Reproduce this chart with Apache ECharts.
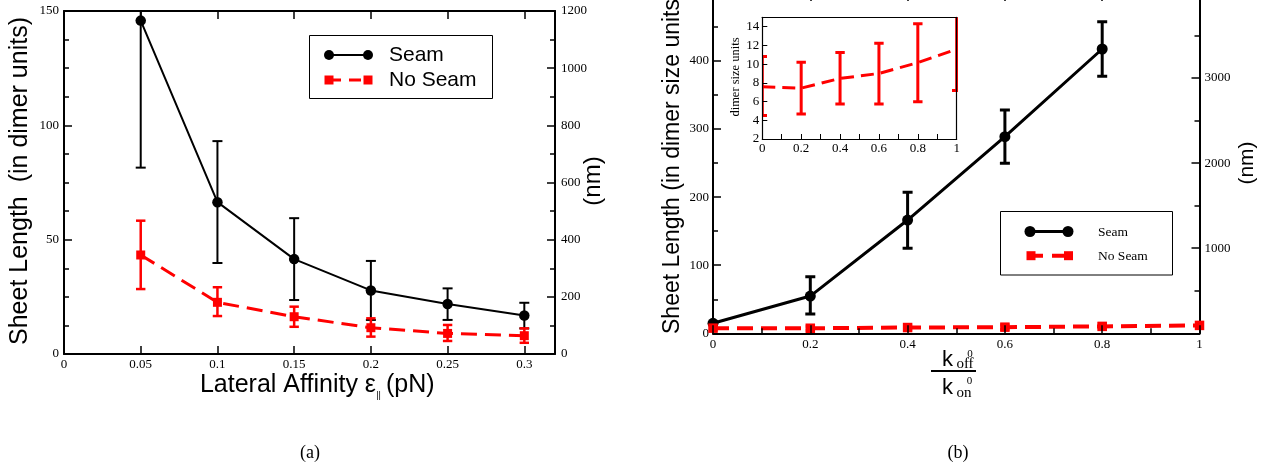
<!DOCTYPE html>
<html><head><meta charset="utf-8">
<script src="https://cdn.jsdelivr.net/npm/echarts@6/dist/echarts.min.js"></script>
<style>html,body{margin:0;padding:0;background:#fff}#c{width:1272px;height:470px}</style>
</head><body><div id="c"></div>
<script>
// ---------- data: panel (a) ----------
const affinity = [0.05, 0.1, 0.15, 0.2, 0.25, 0.3];
const seamA     = [145.8, 66.4, 41.5, 27.8, 21.9, 16.8];
const seamALow  = [81.5, 39.8, 23.6, 14.9, 14.9, 11.2];
const seamAHigh = [210, 93.1, 59.4, 40.7, 28.7, 22.4];
const noSeamA     = [43.3, 22.6, 16.3, 11.5, 9.0, 8.0];
const noSeamALow  = [28.4, 16.6, 11.9, 7.6, 5.7, 4.9];
const noSeamAHigh = [58.3, 29.2, 20.7, 15.6, 12.7, 11.2];
// ---------- data: panel (b) ----------
const ratioSeam = [0, 0.2, 0.4, 0.6, 0.8];
const seamB     = [14.7, 54.7, 166.4, 288.8, 417.6];
const seamBLow  = [12.5, 28.3, 124.9, 249.7, 377.5];
const seamBHigh = [17, 83, 207.1, 328, 457.7];
const ratio = [0, 0.2, 0.4, 0.6, 0.8, 1];
const noSeamB     = [7.57, 7.43, 8.47, 9.0, 10.16, 11.6];
const noSeamBLow  = [4.5, 4.66, 5.74, 5.74, 5.99, 7.17];
const noSeamBHigh = [10.8, 10.2, 11.23, 12.24, 14.32, 16.0];
// ---------- axis ticks ----------
const xTicksA = {min: 0, max: 0.32, interval: 0.05};
const yTicksA = {min: 0, max: 150, interval: 50};
const nmTicksA = {min: 0, max: 1200, interval: 200};
const xTicksB = {min: 0, max: 1, interval: 0.2};
const yTicksB = {min: 0, max: 500, interval: 100};
const nmTicksB = {min: 0, max: 4000, interval: 1000};
const yTicksInset = {min: 2, max: 15, interval: 2};

const serif = '"Liberation Serif","DejaVu Serif",serif';
const sans = '"Liberation Sans",Arial,sans-serif';
const RED = '#ff0000';
const fmt = v => String(parseFloat(Number(v).toFixed(6)));

function axis(kind, o) {
  return {
    type: 'value', gridIndex: o.grid, position: o.position,
    min: o.t.min, max: o.t.max, interval: o.t.interval,
    z: o.z || 0,
    axisLine: {show: true, onZero: false, lineStyle: {color: '#000', width: o.lw || 2}},
    axisTick: {show: o.tick !== false, inside: true, length: o.tl || 8, lineStyle: {color: '#000', width: o.tw || 1.5}},
    minorTick: {show: !!o.minor, splitNumber: o.minor || 2, length: o.ml || 5, lineStyle: {color: '#000', width: o.tw || 1.5}},
    splitLine: {show: false},
    axisLabel: {show: o.label !== false, color: '#000', fontFamily: serif, fontSize: o.fs || 13, margin: o.margin || 5,
      formatter: fmt,
      showMinLabel: o.showMin !== false, showMaxLabel: o.showMax !== false, hideOverlap: false}
  };
}

function line(xs, ys, xi, yi, o) {
  return {
    type: 'line', xAxisIndex: xi, yAxisIndex: yi, z: o.z || 3,
    data: xs.map((x, i) => [x, ys[i]]),
    symbol: o.symbol || 'none', symbolSize: o.size || 0, showSymbol: !!o.symbol,
    itemStyle: {color: o.color, borderWidth: 0},
    lineStyle: {color: o.color, width: o.lw, type: o.dash || 'solid'},
    animation: false, silent: true, clip: true
  };
}

function errBars(xs, lo, hi, xi, yi, o) {
  return {
    type: 'custom', xAxisIndex: xi, yAxisIndex: yi, z: o.z || 3, clip: true, silent: true,
    data: xs.map((x, i) => [x, lo[i], hi[i]]),
    encode: {x: 0, y: [1, 2]},
    renderItem(params, api) {
      const x = api.value(0), l = api.value(1), h = api.value(2);
      const p1 = api.coord([x, h]), p2 = api.coord([x, l]);
      const st = {stroke: o.color, lineWidth: o.lw};
      const c = o.cap;
      return {type: 'group', children: [
        {type: 'line', shape: {x1: p1[0], y1: p1[1], x2: p2[0], y2: p2[1]}, style: st},
        {type: 'line', shape: {x1: p1[0] - c, y1: p1[1], x2: p1[0] + c, y2: p1[1]}, style: st},
        {type: 'line', shape: {x1: p2[0] - c, y1: p2[1], x2: p2[0] + c, y2: p2[1]}, style: st}
      ]};
    }
  };
}

function txt(text, x, y, font, o) {
  o = o || {};
  return {type: 'text', x, y, rotation: o.rot || 0, z: 50,
    style: {text, font, fill: '#000', align: o.align || 'center', verticalAlign: o.va || 'middle'}};
}

const graphic = [
  // panel (a) axis titles
  txt('Sheet Length  (in dimer units)', 20, 181, '25px ' + sans, {rot: Math.PI / 2}),
  txt('(nm)', 593, 181, '24px ' + sans, {rot: Math.PI / 2}),
  txt('Lateral Affinity \u03b5', 376, 385, '25px ' + sans, {align: 'right'}),
  txt('||', 378.5, 396, '9px ' + sans),
  txt('(pN)', 386, 385, '25px ' + sans, {align: 'left'}),
  // panel (a) legend
  {type: 'rect', z: 40, shape: {x: 309.5, y: 35.5, width: 183, height: 63}, style: {fill: '#fff', stroke: '#000', lineWidth: 1}},
  {type: 'line', z: 41, shape: {x1: 329, y1: 55, x2: 368, y2: 55}, style: {stroke: '#000', lineWidth: 2}},
  {type: 'circle', z: 42, shape: {cx: 329, cy: 55, r: 5}, style: {fill: '#000'}},
  {type: 'circle', z: 42, shape: {cx: 368, cy: 55, r: 5}, style: {fill: '#000'}},
  txt('Seam', 389, 55, '21px ' + sans, {align: 'left'}),
  {type: 'line', z: 41, shape: {x1: 329, y1: 80, x2: 368, y2: 80}, style: {stroke: RED, lineWidth: 3, lineDash: [12, 8]}},
  {type: 'rect', z: 42, shape: {x: 324.5, y: 75.5, width: 9, height: 9}, style: {fill: RED}},
  {type: 'rect', z: 42, shape: {x: 363.5, y: 75.5, width: 9, height: 9}, style: {fill: RED}},
  txt('No Seam', 389, 80, '21px ' + sans, {align: 'left'}),
  // panel (b) axis titles
  txt('Sheet Length (in dimer size units)', 673, 334, '23px ' + sans, {rot: Math.PI / 2, align: 'left'}),
  txt('(nm)', 1247, 163, '21px ' + sans, {rot: Math.PI / 2}),
  txt('k', 947.5, 360, '22px ' + sans),
  txt('0', 970, 354.5, '11px ' + serif),
  txt('off', 965, 364, '15px ' + serif),
  {type: 'line', z: 50, shape: {x1: 931, y1: 371, x2: 976, y2: 371}, style: {stroke: '#000', lineWidth: 2}},
  txt('k', 947.5, 388, '22px ' + sans),
  txt('0', 969.5, 381, '11px ' + serif),
  txt('on', 964, 393.5, '15px ' + serif),
  txt('dimer size units', 736, 77, '12.5px ' + serif, {rot: Math.PI / 2}),
  // panel (b) legend
  {type: 'rect', z: 40, shape: {x: 1000.5, y: 211.5, width: 172, height: 63.5}, style: {fill: '#fff', stroke: '#000', lineWidth: 1}},
  {type: 'line', z: 41, shape: {x1: 1030, y1: 231.5, x2: 1068, y2: 231.5}, style: {stroke: '#000', lineWidth: 3}},
  {type: 'circle', z: 42, shape: {cx: 1030, cy: 231.5, r: 5.5}, style: {fill: '#000'}},
  {type: 'circle', z: 42, shape: {cx: 1068, cy: 231.5, r: 5.5}, style: {fill: '#000'}},
  txt('Seam', 1098, 232, '13.5px ' + serif, {align: 'left'}),
  {type: 'line', z: 41, shape: {x1: 1031, y1: 255.7, x2: 1068.5, y2: 255.7}, style: {stroke: RED, lineWidth: 4, lineDash: [12, 9]}},
  {type: 'rect', z: 42, shape: {x: 1026.5, y: 251.2, width: 9, height: 9}, style: {fill: RED}},
  {type: 'rect', z: 42, shape: {x: 1064, y: 251.2, width: 9, height: 9}, style: {fill: RED}},
  txt('No Seam', 1098, 256, '13.5px ' + serif, {align: 'left'}),
  // captions
  txt('(a)', 310, 453, '18px ' + serif),
  txt('(b)', 958, 453, '18px ' + serif)
];

const option = {
  animation: false,
  backgroundColor: '#fff',
  grid: [
    {left: 64, top: 11, width: 491, height: 343, outerBoundsMode: 'none', containLabel: false},
    {left: 713, top: -7.1, width: 486.5, height: 340.4, outerBoundsMode: 'none', containLabel: false},
    {left: 762.3, top: 17.3, width: 194.4, height: 121.7, outerBoundsMode: 'none', containLabel: false,
      show: true, backgroundColor: '#fff', borderWidth: 0, z: 4}
  ],
  xAxis: [
    axis('x', {grid: 0, position: 'bottom', t: xTicksA, margin: 4, showMax: false, z: 5}),
    axis('x', {grid: 0, position: 'top', t: xTicksA, label: false}),
    axis('x', {grid: 1, position: 'bottom', t: xTicksB, minor: 2, ml: 5, margin: 5, z: 5}),
    axis('x', {grid: 1, position: 'top', t: xTicksB, minor: 2, label: false}),
    axis('x', {grid: 2, position: 'bottom', t: xTicksB, minor: 2, tl: 5, ml: 5, lw: 1.2, tw: 1, margin: 3, z: 6}),
    axis('x', {grid: 2, position: 'top', t: xTicksB, tick: false, label: false, lw: 1.2, z: 6})
  ],
  yAxis: [
    axis('y', {grid: 0, position: 'left', t: yTicksA, minor: 4, margin: 5}),
    axis('y', {grid: 0, position: 'right', t: nmTicksA, minor: 2, margin: 6}),
    axis('y', {grid: 1, position: 'left', t: yTicksB, minor: 2, margin: 4, showMax: false}),
    axis('y', {grid: 1, position: 'right', t: nmTicksB, minor: 2, margin: 5, showMin: false, showMax: false}),
    axis('y', {grid: 2, position: 'left', t: yTicksInset, tl: 5, lw: 1.2, tw: 1, margin: 3, showMax: false, z: 6}),
    axis('y', {grid: 2, position: 'right', t: yTicksInset, tick: false, label: false, lw: 1.2, z: 6})
  ],
  series: [
    // (a)
    errBars(affinity, seamALow, seamAHigh, 0, 0, {color: '#000', lw: 2, cap: 5, z: 2}),
    line(affinity, seamA, 0, 0, {color: '#000', lw: 2, symbol: 'circle', size: 10.5, z: 2}),
    errBars(affinity, noSeamALow, noSeamAHigh, 0, 0, {color: RED, lw: 2.5, cap: 4.7, z: 3}),
    line(affinity, noSeamA, 0, 0, {color: RED, lw: 3, symbol: 'rect', size: 9, dash: [16, 8], z: 3}),
    // (b)
    errBars(ratioSeam, seamBLow, seamBHigh, 2, 2, {color: '#000', lw: 3, cap: 5, z: 2}),
    line(ratioSeam, seamB, 2, 2, {color: '#000', lw: 3, symbol: 'circle', size: 11, z: 2}),
    errBars(ratio, noSeamBLow, noSeamBHigh, 2, 2, {color: RED, lw: 3, cap: 4.5, z: 3}),
    line(ratio, noSeamB, 2, 2, {color: RED, lw: 4, symbol: 'rect', size: 9.5, dash: [16, 8], z: 3}),
    // inset
    line(ratio, noSeamB, 4, 4, {color: RED, lw: 3, dash: [13, 7], z: 5}),
    errBars(ratio, noSeamBLow, noSeamBHigh, 4, 4, {color: RED, lw: 3, cap: 4.7, z: 5})
  ],
  graphic: graphic
};

const chart = echarts.init(document.getElementById('c'), null, {renderer: 'canvas'});
chart.setOption(option);
</script>
</body></html>
